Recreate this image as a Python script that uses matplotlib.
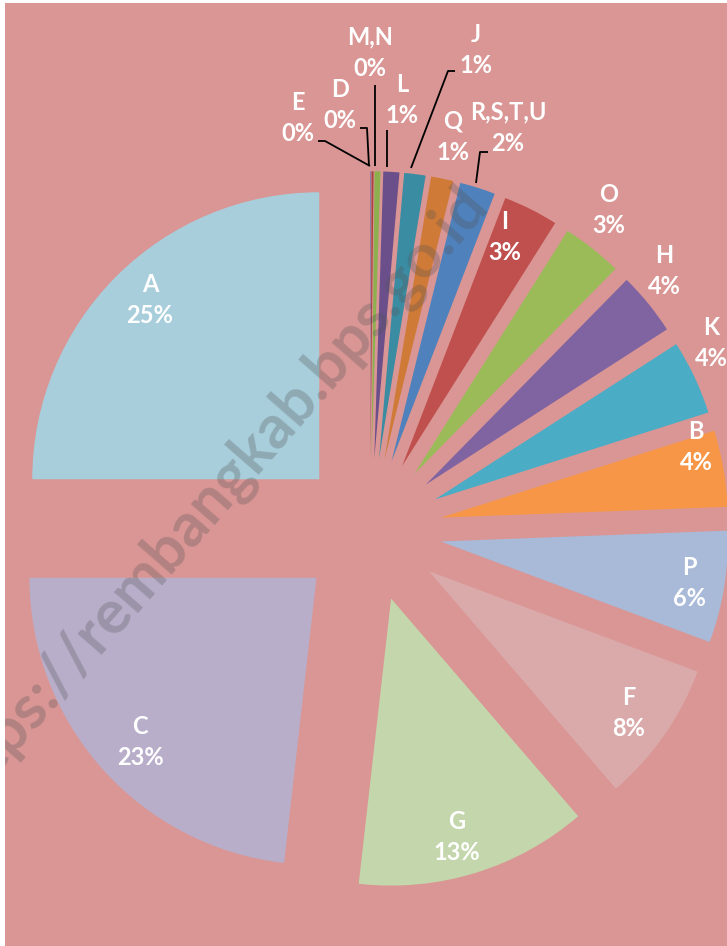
import matplotlib
matplotlib.use("Agg")
import matplotlib.pyplot as plt
from matplotlib.patches import Rectangle

# slices clockwise from 12 o'clock
names = ["E", "D", "M,N", "L", "J", "Q", "R,S,T,U", "I", "O", "H",
         "K", "B", "P", "F", "G", "C", "A"]
shares = [0.06, 0.11, 0.33, 0.9, 1.2, 1.25, 2.0, 3.1, 3.4, 3.55,
          4.2, 4.3, 6.3, 8.0, 13.1, 23.2, 25.0]
colors = ["#8479A8", "#A9423F", "#8DB04F", "#6A4F8B", "#3A8CA3", "#D07A37",
          "#4F81BD", "#C0504D", "#9BBB59", "#8064A2", "#4BACC6", "#F79646",
          "#A9B9D8", "#DAA9A9", "#C4D6AB", "#B9AECA", "#A8CEDC"]

BG = "#D99694"
CX, CY, R = 370, 530, 287      # pie centre and radius in image pixels
W, H = 727, 946
LEFT, TOP = 5, 3               # white margin of the picture


def px(x, y):
    return (x - CX) / R, (CY - y) / R


# label centres in image pixels
label_xy = {
    "A": (150, 300), "C": (140, 742), "G": (457, 837), "F": (629, 713),
    "P": (689, 583), "B": (696, 447), "K": (711, 343), "H": (664, 271),
    "O": (609, 210), "I": (505, 237), "R,S,T,U": (508, 128), "Q": (453, 137),
    "J": (476, 50), "L": (402, 100), "M,N": (370, 53), "D": (340, 105),
    "E": (298, 118),
}
# leader lines (image pixels)
leaders = [
    [(318, 141), (325, 141), (370, 166)],
    [(360, 128), (367, 128), (369, 166)],
    [(375, 85), (375, 166)],
    [(387, 130), (387, 167)],
    [(455, 71), (448, 71), (411, 168)],
    [(488, 152), (480, 152), (476, 183)],
]

fig = plt.figure(figsize=(W / 100, H / 100), dpi=100)
fig.patch.set_facecolor("white")
ax = fig.add_axes([LEFT / W, 0, 1 - LEFT / W, 1 - TOP / H])

ax.pie(shares, colors=colors, startangle=90, counterclock=False,
       explode=[0.25] * len(shares), wedgeprops=dict(linewidth=0))
ax.add_patch(Rectangle((0, 0), 1, 1, transform=ax.transAxes,
                       facecolor=BG, edgecolor="none", zorder=-5))

total = sum(shares)
for name, val in zip(names, shares):
    x, y = px(*label_xy[name])
    ax.text(x, y, f"{name}\n{round(val / total * 100)}%", ha="center",
            va="center", color="white", fontsize=17, fontweight="bold",
            family="Lato", linespacing=1.45, clip_on=True)

for pts in leaders:
    xs, ys = zip(*[px(a, b) for a, b in pts])
    ax.plot(xs, ys, color="black", lw=1.3, solid_capstyle="butt")

# watermark
wx, wy = px(210, 499)
ax.text(wx, wy, "https://rembangkab.bps.go.id", rotation=48.9,
        rotation_mode="anchor", ha="center", va="center", fontsize=44,
        fontweight="bold", family="Lato", color="#555555", alpha=0.3,
        clip_on=True)

ax.set_xlim((LEFT - CX) / R, (W - CX) / R)
ax.set_ylim((CY - H) / R, (CY - TOP) / R)
ax.set_aspect("auto")

fig.savefig("out.png", dpi=100, facecolor=fig.get_facecolor())
